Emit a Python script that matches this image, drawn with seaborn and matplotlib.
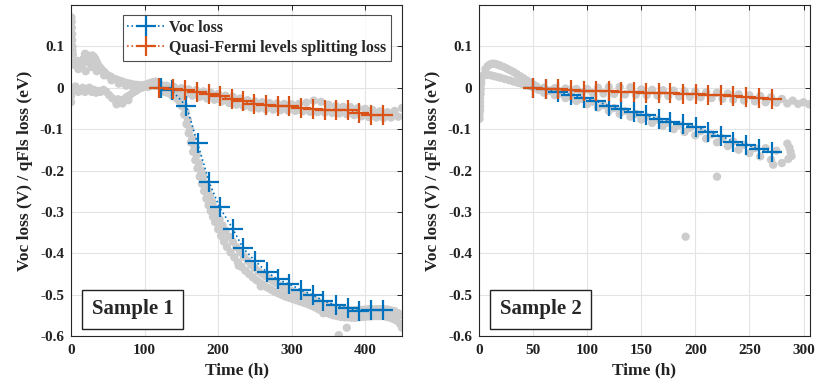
import numpy as np
import pandas as pd
import matplotlib
matplotlib.use("Agg")
import matplotlib.pyplot as plt
import seaborn as sns

# ---------------- data ----------------
# Sample 1 markers
s1_voc_t = [122, 137, 157, 172, 188, 202, 220, 234, 250, 266, 281, 297, 313, 329, 343, 360, 376, 392, 408, 424]
s1_voc_y = [0.0, -0.006, -0.045, -0.134, -0.229, -0.289, -0.341, -0.388, -0.418, -0.445, -0.463, -0.475,
            -0.489, -0.501, -0.515, -0.525, -0.533, -0.539, -0.537, -0.537]
s1_qfl_t = [120, 139, 155, 171, 187, 203, 219, 234, 249, 265, 281, 297, 313, 329, 345, 360, 376, 392, 408, 424]
s1_qfl_y = [0.0, -0.003, -0.006, -0.011, -0.015, -0.021, -0.027, -0.033, -0.039, -0.042, -0.044, -0.045,
            -0.049, -0.052, -0.053, -0.053, -0.053, -0.061, -0.065, -0.067]

# Sample 2 markers
s2_t = [50, 62, 73, 85, 97, 108, 120, 131, 143, 154, 166, 177, 189, 201, 212, 224, 235, 247, 259, 271]
s2_voc_y = [0.0, -0.004, -0.010, -0.017, -0.025, -0.033, -0.043, -0.051, -0.059, -0.067, -0.075, -0.083,
            -0.088, -0.095, -0.107, -0.117, -0.130, -0.138, -0.147, -0.155]
s2_qfl_y = [0.0, -0.003, -0.004, -0.006, -0.007, -0.008, -0.009, -0.010, -0.011, -0.012, -0.012, -0.013,
            -0.014, -0.015, -0.017, -0.018, -0.020, -0.022, -0.024, -0.027]

# Sample 1 raw (gray) measurements
g1_spike_t = [0.5, 1, 1, 1.5, 1.5, 2, 2, 2.5, 0, 0, 0, 0]
g1_spike_y = [0.17, 0.16, 0.145, 0.13, 0.115, 0.10, 0.09, 0.08, 0.0, -0.01, -0.02, -0.035]
g1_up_t = [3, 5, 7, 9, 11, 13, 15, 17, 19, 21, 23, 25, 27, 29, 31, 33, 35, 37, 40, 43, 46, 50, 54, 58, 62,
           66, 70, 75, 80, 85, 90, 95, 100, 105, 110, 115, 120,
           10, 20, 28, 35, 45, 55, 65, 75, 85, 95, 105, 115]
g1_up_y = [0.06, 0.055, 0.06, 0.065, 0.058, 0.05, 0.055, 0.07, 0.082, 0.08, 0.07, 0.06, 0.07, 0.078, 0.075,
           0.07, 0.062, 0.055, 0.048, 0.042, 0.037, 0.03, 0.027, 0.022, 0.02, 0.017, 0.015, 0.012, 0.01,
           0.008, 0.007, 0.006, 0.007, 0.01, 0.013, 0.015, 0.01,
           0.045, 0.04, 0.05, 0.04, 0.03, 0.018, 0.01, 0.005, 0.0, 0.0, 0.002, 0.005]
g1_low_t = [2, 4, 6, 8, 10, 13, 16, 19, 22, 25, 28, 31, 34, 37, 40, 44, 48, 52, 56, 60, 64, 68, 72, 76, 80,
            84, 88, 92, 96, 100, 62, 70, 78]
g1_low_y = [-0.005, 0.0, 0.003, -0.005, -0.01, -0.005, 0.0, -0.01, -0.005, 0.0, -0.01, -0.005, -0.012,
            -0.008, -0.01, -0.005, -0.01, -0.018, -0.025, -0.03, -0.028, -0.032, -0.028, -0.022, -0.018,
            -0.012, -0.008, -0.003, 0.0, 0.003, -0.04, -0.038, -0.03]
g1_q_t = [120, 130, 140, 150, 160, 170, 180, 190, 200, 210, 220, 230, 240, 250, 260, 270, 280, 290, 300,
          310, 320, 330, 340, 350, 360, 370, 380, 390, 400, 410, 420, 430, 440, 450,
          125, 135, 145, 155, 165, 175, 185, 195, 205, 215, 225, 235, 245, 255, 265, 275, 285, 295, 305,
          315, 325, 335, 345, 355, 365, 375, 385, 395, 405, 415, 425, 435, 445]
g1_q_y = [0.010, 0.005, 0.002, -0.001, -0.004, -0.006, -0.009, -0.012, -0.015, -0.019, -0.022, -0.026, -0.030,
          -0.033, -0.035, -0.037, -0.038, -0.039, -0.040, -0.039, -0.036, -0.031, -0.034, -0.041, -0.044,
          -0.046, -0.047, -0.049, -0.051, -0.054, -0.057, -0.059, -0.056, -0.049,
          -0.006, -0.010, -0.013, -0.016, -0.019, -0.022, -0.026, -0.029, -0.033, -0.037, -0.041, -0.045,
          -0.048, -0.050, -0.052, -0.053, -0.054, -0.055, -0.056, -0.057, -0.058, -0.059, -0.060, -0.061,
          -0.062, -0.064, -0.066, -0.069, -0.071, -0.072, -0.073, -0.072, -0.070]
g1_v_t = [125, 130, 135, 140, 145, 150, 153, 156, 159, 162, 165, 168, 171, 174, 177, 180, 183, 186, 189,
          192, 195, 198, 202, 206, 210, 215, 220, 225, 230, 235, 240, 245, 250, 255, 260, 265, 270, 275,
          280, 285, 290, 295, 300, 305, 310, 315, 320, 325, 330, 335, 340, 345, 350, 355, 360, 365, 370,
          375, 380, 385, 390, 395, 400, 405, 410, 415, 420, 425, 430, 435, 440, 445, 450,
          127, 132, 137, 142, 147, 151, 154, 157, 160, 163, 166, 169, 172, 175, 178, 181, 184, 187, 190,
          193, 196, 200, 204, 208, 212, 217, 222, 227, 232, 237, 242, 247, 252, 257, 262, 267, 272, 277,
          282, 287, 292, 297, 302, 307, 312, 317, 322, 327, 332, 337, 342, 347, 352, 357, 362, 367, 372,
          377, 382, 387, 392, 397, 402, 407, 412, 417, 422, 427, 432, 437, 442, 447, 450,
          364, 375, 258, 228, 343]
g1_v_y = [0.005, -0.002, -0.006, -0.01, -0.015, -0.025, -0.04, -0.058, -0.078, -0.1, -0.122, -0.142,
          -0.162, -0.182, -0.2, -0.215, -0.232, -0.248, -0.262, -0.276, -0.29, -0.302, -0.318, -0.333,
          -0.345, -0.36, -0.372, -0.385, -0.397, -0.408, -0.418, -0.428, -0.436, -0.444, -0.45, -0.456,
          -0.462, -0.468, -0.473, -0.478, -0.483, -0.488, -0.492, -0.495, -0.498, -0.501, -0.505, -0.508,
          -0.512, -0.516, -0.52, -0.524, -0.528, -0.531, -0.533, -0.535, -0.536, -0.537, -0.538, -0.538,
          -0.537, -0.537, -0.536, -0.535, -0.535, -0.535, -0.535, -0.535, -0.536, -0.538, -0.54, -0.545,
          -0.55,
          -0.01, -0.013, -0.018, -0.024, -0.032, -0.045, -0.065, -0.088, -0.11, -0.132, -0.155, -0.175,
          -0.195, -0.215, -0.232, -0.25, -0.268, -0.284, -0.298, -0.312, -0.325, -0.342, -0.358, -0.372,
          -0.385, -0.398, -0.41, -0.422, -0.433, -0.442, -0.45, -0.458, -0.465, -0.471, -0.477, -0.483,
          -0.488, -0.493, -0.497, -0.501, -0.505, -0.508, -0.511, -0.514, -0.517, -0.52, -0.523, -0.527,
          -0.531, -0.536, -0.54, -0.544, -0.547, -0.55, -0.552, -0.554, -0.555, -0.555, -0.556, -0.556,
          -0.555, -0.554, -0.553, -0.553, -0.552, -0.552, -0.552, -0.553, -0.555, -0.558, -0.562, -0.57,
          -0.58,
          -0.598, -0.58, -0.48, -0.43, -0.545]

# Sample 2 raw (gray) measurements
g2_spike_t = [0.5, 0.5, 1, 1, 1, 1, 1.5, 1.5, 1.5, 2, 2]
g2_spike_y = [-0.075, -0.065, -0.055, -0.045, -0.035, -0.025, -0.015, -0.005, 0.005, 0.015, 0.025]
g2_up_t = [2, 4, 6, 8, 10, 12, 14, 16, 18, 20, 23, 26, 29, 32, 35, 38, 41, 44, 47, 50, 53]
g2_up_y = [0.01, 0.03, 0.045, 0.052, 0.056, 0.058, 0.058, 0.057, 0.055, 0.053, 0.05, 0.046, 0.042, 0.038,
           0.033, 0.028, 0.023, 0.018, 0.013, 0.008, 0.004]
g2_low_t = [2, 5, 8, 11, 14, 17, 20, 24, 28, 32, 36, 40, 44, 48]
g2_low_y = [0.025, 0.03, 0.031, 0.03, 0.028, 0.026, 0.024, 0.021, 0.018, 0.015, 0.012, 0.009, 0.006, 0.003]
g2_q_t = [50, 60, 70, 80, 90, 100, 110, 120, 130, 140, 150, 160, 170, 180, 190, 200, 210, 220, 230, 240,
          250, 260, 270, 280, 290, 300,
          55, 65, 75, 85, 95, 105, 115, 125, 135, 145, 155, 165, 175, 185, 195, 205, 215, 225, 235, 245,
          255, 265, 275, 285, 295, 305]
g2_q_y = [0.002, 0.0, -0.001, -0.002, -0.003, -0.003, 0.0, 0.002, 0.002, 0.001, -0.004, -0.005, -0.006,
          -0.007, -0.008, -0.009, -0.011, -0.012, -0.014, -0.016, -0.018, -0.020, -0.023, -0.027, -0.031,
          -0.035,
          -0.005, -0.007, -0.009, -0.011, -0.012, -0.013, -0.014, -0.015, -0.016, -0.017, -0.018, -0.019,
          -0.020, -0.021, -0.022, -0.023, -0.025, -0.027, -0.029, -0.031, -0.033, -0.035, -0.036, -0.038,
          -0.039, -0.040]
g2_v_t = [55, 65, 75, 85, 95, 105, 115, 125, 135, 145, 155, 165, 175, 185, 195, 205, 215, 225, 235, 245,
          255, 265, 275,
          60, 70, 80, 90, 100, 110, 120, 130, 140, 150, 160, 170, 180, 190, 200, 210, 220, 230, 240, 250,
          260, 270, 280,
          285, 287, 288, 289, 286, 220, 191, 272]
g2_v_y = [-0.002, -0.008, -0.014, -0.02, -0.027, -0.034, -0.042, -0.049, -0.056, -0.063, -0.07, -0.077,
          -0.084, -0.09, -0.097, -0.105, -0.113, -0.122, -0.13, -0.138, -0.146, -0.146, -0.152,
          -0.012, -0.018, -0.025, -0.032, -0.04, -0.048, -0.056, -0.063, -0.07, -0.077, -0.085, -0.092,
          -0.1, -0.107, -0.115, -0.123, -0.132, -0.141, -0.15, -0.158, -0.166, -0.174, -0.182,
          -0.135, -0.145, -0.155, -0.165, -0.172, -0.215, -0.36, -0.186]

y_ticks = [-0.6, -0.5, -0.4, -0.3, -0.2, -0.1, 0.0, 0.1]
y_ticklabels = ["-0.6", "-0.5", "-0.4", "-0.3", "-0.2", "-0.1", "0", "0.1"]
x1_ticks = [0, 100, 200, 300, 400]
x2_ticks = [0, 50, 100, 150, 200, 250, 300]

voc_label = "Voc loss"
qfl_label = "Quasi-Fermi levels splitting loss"
x_label = "Time (h)"
y_label = "Voc loss (V) / qFls loss (eV)"

# ---------------- style ----------------
sns.set_theme(style="white")
plt.rcParams["font.family"] = ["Liberation Serif", "DejaVu Serif"]
plt.rcParams["font.weight"] = "bold"
plt.rcParams["axes.unicode_minus"] = False

BLUE = "#0072BD"
ORANGE = "#D95319"
GRAY = "#cccccc"
AX_COL = "#262626"

fig = plt.figure(figsize=(8.17, 3.85), dpi=100)
ax1 = fig.add_axes([71 / 817, 1 - 336 / 385, 331 / 817, 331 / 385])
ax2 = fig.add_axes([479 / 817, 1 - 336 / 385, 331 / 817, 331 / 385])


def gray_df(ts, ys):
    return pd.DataFrame({"t": np.concatenate(ts), "y": np.concatenate(ys)})


g1 = gray_df([g1_spike_t, g1_up_t, g1_low_t, g1_q_t, g1_v_t], [g1_spike_y, g1_up_y, g1_low_y, g1_q_y, g1_v_y])
g2 = gray_df([g2_spike_t, g2_up_t, g2_low_t, g2_q_t, g2_v_t], [g2_spike_y, g2_up_y, g2_low_y, g2_q_y, g2_v_y])

line_kw = dict(linestyle=":", linewidth=1.2, marker="+", markersize=14, markeredgewidth=1.6,
               sort=False, estimator=None)

for ax, g in ((ax1, g1), (ax2, g2)):
    sns.scatterplot(data=g, x="t", y="y", ax=ax, color=GRAY, s=36, edgecolor="none", linewidth=0,
                    zorder=2, legend=False)

sns.lineplot(x=s1_voc_t, y=s1_voc_y, ax=ax1, color=BLUE, markeredgecolor=BLUE, label=voc_label,
             zorder=3, **line_kw)
sns.lineplot(x=s1_qfl_t, y=s1_qfl_y, ax=ax1, color=ORANGE, markeredgecolor=ORANGE, label=qfl_label,
             zorder=4, **line_kw)
sns.lineplot(x=s2_t, y=s2_voc_y, ax=ax2, color=BLUE, markeredgecolor=BLUE, zorder=3, legend=False, **line_kw)
sns.lineplot(x=s2_t, y=s2_qfl_y, ax=ax2, color=ORANGE, markeredgecolor=ORANGE, zorder=4, legend=False,
             **line_kw)

for ax, xt, xmax, name in ((ax1, x1_ticks, 450, "Sample 1"), (ax2, x2_ticks, 306, "Sample 2")):
    ax.set_xlim(0, xmax)
    ax.set_ylim(-0.6, 0.2)
    ax.set_xticks(xt)
    ax.set_xticklabels([str(v) for v in xt])
    ax.set_yticks(y_ticks)
    ax.set_yticklabels(y_ticklabels)
    ax.grid(True, color="#e3e3e3", linewidth=0.8, zorder=0)
    ax.set_axisbelow(True)
    for sp in ax.spines.values():
        sp.set_color(AX_COL)
        sp.set_linewidth(0.8)
        sp.set_visible(True)
    ax.tick_params(direction="in", length=3.5, width=0.7, color=AX_COL, top=True, right=True,
                   labelsize=11, labelcolor="#222222")
    ax.tick_params(axis="x", pad=6)
    ax.tick_params(axis="y", pad=5)
    for lab in ax.get_xticklabels() + ax.get_yticklabels():
        lab.set_fontweight("bold")
    ax.set_xlabel(x_label, fontsize=12.5, fontweight="bold", labelpad=4, color="#222222")
    ax.set_ylabel(y_label, fontsize=12.5, fontweight="bold", labelpad=5, color="#222222")
    ax.text(0.186, 0.081, name, transform=ax.transAxes, ha="center", va="center", fontsize=15,
            fontweight="bold", zorder=6,
            bbox=dict(boxstyle="square,pad=0.45", facecolor="white", edgecolor="#222222", linewidth=1.0))

leg = ax1.legend(loc="upper left", bbox_to_anchor=(0.156, 0.970), borderaxespad=0, frameon=True,
                 fancybox=False, edgecolor="#222222", handlelength=2.3, handletextpad=0.3,
                 borderpad=0.3, labelspacing=0.25, prop={"weight": "bold", "size": 11.5})
leg.get_frame().set_linewidth(0.8)
leg.set_zorder(7)

fig.savefig("out.png", dpi=100)
